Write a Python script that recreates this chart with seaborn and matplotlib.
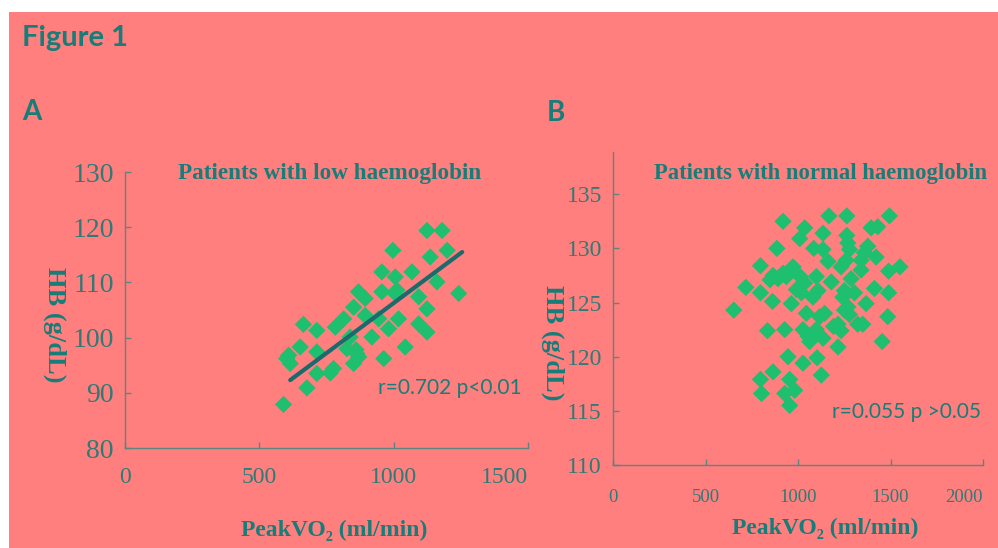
import numpy as np
import pandas as pd
import seaborn as sns
import matplotlib.pyplot as plt
from matplotlib.patches import Rectangle

# panel A - patients with low haemoglobin
low_vo2 = [590, 602, 615, 609, 652, 664, 677, 714, 714, 714, 764, 776, 783, 814, 826,
           838, 851, 851, 863, 869, 894, 894, 919, 944, 956, 956, 963, 981, 997, 1006,
           1012, 1018, 1043, 1068, 1093, 1093, 1124, 1124, 1136, 1124, 1161, 1180, 1199,
           1242, 1006, 870, 860]
low_hb = [87.9, 96.2, 95.3, 96.8, 98.3, 102.4, 90.9, 101.3, 97.4, 93.5, 93.6, 94.4, 101.9,
          103.4, 98.0, 100.1, 105.5, 95.3, 97.1, 108.3, 107.1, 104.0, 100.1, 103.4, 111.9,
          108.3, 96.2, 101.6, 115.8, 111.0, 108.6, 103.4, 98.3, 111.9, 107.4, 102.5, 119.4,
          105.2, 114.6, 101.0, 110.1, 119.4, 115.8, 108.0, 108.0, 96.5, 97.8]
# trend line as drawn in the figure (ends)
trend_vo2 = [615, 1255]
trend_hb = [92.3, 115.5]

# panel B - patients with normal haemoglobin
norm_vo2 = [653, 718, 797, 797, 797, 803, 835, 862, 865, 886, 865, 892, 919, 919, 928,
            928, 946, 955, 955, 964, 973, 982, 1009, 1012, 1018, 1027, 1027, 1036, 1036,
            1045, 1054, 1081, 1085, 1099, 1099, 1103, 1108, 1117, 1126, 1135, 1135, 1135,
            1144, 1162, 1167, 1180, 1192, 1216, 1233, 1233, 1242, 1251, 1260, 1264, 1264,
            1269, 1278, 1278, 1287, 1305, 1323, 1341, 1341, 1350, 1368, 1377, 1395, 1413,
            1422, 1431, 1455, 1485, 1490, 1490, 1494, 1551, 937, 991, 1063, 1090, 1251,
            1216, 849, 1269, 1359]
norm_hb = [124.3, 126.4, 128.4, 125.9, 117.9, 116.6, 122.4, 125.1, 118.6, 130.0, 127.5,
           127.2, 132.5, 127.7, 122.5, 116.6, 120.0, 115.5, 117.9, 124.9, 128.3, 116.9,
           130.9, 127.4, 125.9, 122.5, 119.4, 131.9, 126.8, 124.0, 121.9, 125.5, 130.0,
           127.4, 122.5, 119.9, 126.1, 123.7, 118.3, 131.4, 129.9, 121.7, 124.0, 128.8,
           133.0, 126.9, 122.8, 120.9, 128.3, 122.4, 125.5, 126.1, 128.9, 133.0, 131.2,
           124.6, 123.9, 129.9, 127.2, 125.9, 123.0, 128.9, 128.0, 123.0, 124.9, 130.2,
           131.9, 126.3, 129.2, 132.0, 121.4, 123.7, 125.9, 127.9, 133.0, 128.3, 127.4,
           126.2, 121.4, 122.3, 124.3, 123.0, 127.1, 130.5, 129.6]

df_low = pd.DataFrame({"vo2": low_vo2, "hb": low_hb})
df_trend = pd.DataFrame({"vo2": trend_vo2, "hb": trend_hb})
df_norm = pd.DataFrame({"vo2": norm_vo2, "hb": norm_hb})

PINK = "#FF7F7F"
TEAL = "#167d79"
TICK = "#2e7b76"
SPINE = "#5c8580"
GREEN = "#1fbf70"
LINE = "#1b6a6c"
SERIF = ["Liberation Serif", "DejaVu Serif"]

sns.set_style("ticks")

fig = plt.figure(figsize=(9.98, 5.48), dpi=100)
fig.patch.set_facecolor("white")
fig.patches.append(Rectangle((9 / 998, 0), 1, 1 - 12 / 548, transform=fig.transFigure,
                             facecolor=PINK, edgecolor="none", zorder=-10))

axA = fig.add_axes([125 / 998, 1 - 448 / 548, 403 / 998, 276 / 548])
axB = fig.add_axes([613 / 998, 1 - 465 / 548, 370 / 998, 313 / 548])

sns.scatterplot(data=df_low, x="vo2", y="hb", ax=axA, marker="D", s=78,
                color=GREEN, edgecolor="none", zorder=3)
sns.lineplot(data=df_trend, x="vo2", y="hb", ax=axA, color=LINE, lw=3, zorder=4)
sns.scatterplot(data=df_norm, x="vo2", y="hb", ax=axB, marker="D", s=78,
                color=GREEN, edgecolor="none", zorder=3)

axA.set_xlim(0, 1500)
axA.set_ylim(80, 130)
axA.set_xticks([0, 500, 1000, 1500])
axA.set_yticks([80, 90, 100, 110, 120, 130])
axB.set_xlim(0, 2000)
axB.set_ylim(110, 138.9)
axB.set_xticks([0, 500, 1000, 1500, 2000])
axB.set_yticks([110, 115, 120, 125, 130, 135])

# x tick size, y tick size, x pad
sizes = {axA: (17, 20, 14), axB: (13.5, 17, 17)}
for ax, (xs, ys, xpad) in sizes.items():
    ax.set_facecolor("none")
    sns.despine(ax=ax)
    for side in ["left", "bottom"]:
        ax.spines[side].set_color(SPINE)
        ax.spines[side].set_linewidth(1)
    ax.tick_params(direction="in", length=4, width=1, color=SPINE, labelcolor=TICK)
    ax.tick_params(axis="x", labelsize=xs, pad=xpad)
    ax.tick_params(axis="y", labelsize=ys, pad=8)
    for lab in ax.get_xticklabels() + ax.get_yticklabels():
        lab.set_family(SERIF)
    ax.set_xlabel("PeakVO\u2082 (ml/min)", fontsize=17, fontweight="bold",
                  color=TEAL, family=SERIF)
    ax.set_ylabel("HB (g/dL)", fontsize=19, fontweight="bold", color=TEAL,
                  family=SERIF, rotation=270, va="center")
    # last label sits inside the panel edge, as in the original
    ax.get_xticklabels()[-1].set_horizontalalignment("right")

axA.xaxis.set_label_coords(0.519, -0.261)
axA.yaxis.set_label_coords(-0.174, 0.446)
axB.xaxis.set_label_coords(0.573, -0.17)
axB.yaxis.set_label_coords(-0.162, 0.39)

fig.text(330 / 998, 1 - 173 / 548, "Patients with low haemoglobin", ha="center",
         va="center", fontsize=16.7, fontweight="bold", color=TEAL, family=SERIF)
fig.text(821 / 998, 1 - 174 / 548, "Patients with normal haemoglobin", ha="center",
         va="center", fontsize=16.3, fontweight="bold", color=TEAL, family=SERIF)

fig.text(450 / 998, 1 - 388 / 548, "r=0.702 p<0.01", ha="center", va="center",
         fontsize=15, color=TEAL, family="Lato")
fig.text(906 / 998, 1 - 412 / 548, "r=0.055 p >0.05", ha="center", va="center",
         fontsize=15, color=TEAL, family="Lato")

fig.text(22 / 998, 1 - 38 / 548, "Figure 1", ha="left", va="center",
         fontsize=21, fontweight="bold", color=TEAL, family="Lato")
fig.text(22 / 998, 1 - 112 / 548, "A", ha="left", va="center",
         fontsize=20, fontweight="bold", color=TEAL, family="Lato")
fig.text(547 / 998, 1 - 113 / 548, "B", ha="left", va="center",
         fontsize=20, fontweight="bold", color=TEAL, family="Lato")

fig.savefig("out.png", dpi=100, facecolor=fig.get_facecolor())
